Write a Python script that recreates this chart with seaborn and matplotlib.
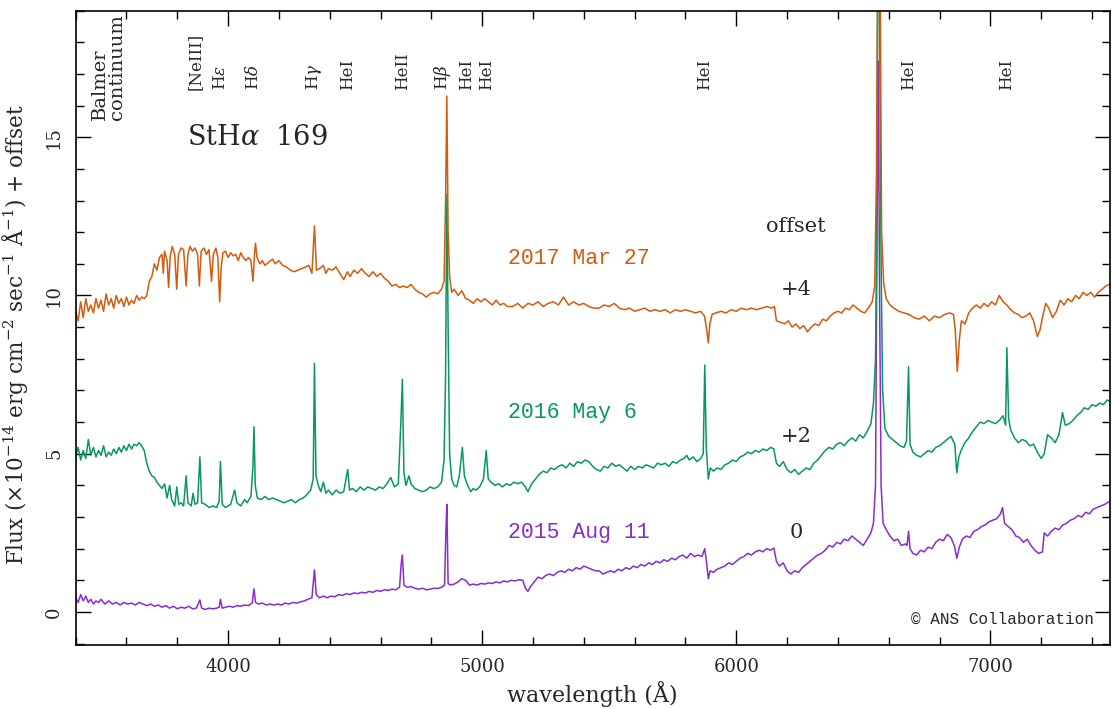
import matplotlib
matplotlib.use("Agg")
import matplotlib.pyplot as plt
from matplotlib.ticker import MultipleLocator
import pandas as pd
import seaborn as sns

# Observing epochs, vertical offsets applied for display, and line colours
epochs = ["2015 Aug 11", "2016 May 6", "2017 Mar 27"]
offsets = [0, 2, 4]
offset_labels = ["0", "+2", "+4"]
colors = ["#8a2bd0", "#05995f", "#d65a0c"]

# Spectra: (wavelength [A], flux [1e-14 erg cm-2 s-1 A-1]) before the offset
spec_2015 = [
    (3400, 0.45), (3410, 0.3), (3420, 0.55), (3430, 0.35), (3440, 0.5), (3450, 0.3),
    (3460, 0.4), (3470, 0.25), (3480, 0.35), (3490, 0.3), (3500, 0.4), (3515, 0.25),
    (3530, 0.35), (3545, 0.25), (3560, 0.3), (3575, 0.22), (3590, 0.3), (3605, 0.25),
    (3620, 0.28), (3635, 0.22), (3650, 0.3), (3665, 0.25), (3680, 0.2), (3695, 0.25),
    (3710, 0.18), (3725, 0.22), (3740, 0.15), (3755, 0.2), (3770, 0.12), (3785, 0.18),
    (3800, 0.1), (3815, 0.15), (3830, 0.12), (3845, 0.18), (3860, 0.1), (3875, 0.12),
    (3889, 0.38), (3896, 0.12), (3910, 0.08), (3925, 0.12), (3940, 0.1), (3955, 0.12),
    (3965, 0.15), (3970, 0.4), (3977, 0.12), (3990, 0.15), (4005, 0.18), (4020, 0.15),
    (4035, 0.2), (4050, 0.18), (4065, 0.22), (4080, 0.2), (4095, 0.28), (4102, 0.73),
    (4108, 0.3), (4120, 0.25), (4135, 0.28), (4150, 0.22), (4165, 0.25), (4180, 0.22),
    (4195, 0.25), (4210, 0.22), (4225, 0.28), (4240, 0.25), (4255, 0.3), (4270, 0.28),
    (4285, 0.32), (4300, 0.35), (4315, 0.4), (4330, 0.45), (4340, 1.33), (4347, 0.55),
    (4360, 0.45), (4375, 0.5), (4390, 0.45), (4405, 0.5), (4420, 0.48), (4435, 0.55),
    (4450, 0.52), (4465, 0.58), (4480, 0.55), (4495, 0.6), (4510, 0.58), (4525, 0.62),
    (4540, 0.6), (4555, 0.65), (4570, 0.62), (4585, 0.68), (4600, 0.65), (4615, 0.7),
    (4630, 0.68), (4645, 0.72), (4660, 0.7), (4675, 0.78), (4681, 1.5), (4686, 1.8),
    (4692, 0.85), (4705, 0.78), (4720, 0.8), (4735, 0.75), (4750, 0.72), (4765, 0.75),
    (4780, 0.7), (4795, 0.72), (4810, 0.75), (4825, 0.74), (4840, 0.78), (4852, 0.85),
    (4857, 2.5), (4861, 3.4), (4866, 0.9), (4875, 0.85), (4890, 0.88), (4905, 0.95),
    (4920, 1.05), (4935, 1.0), (4950, 0.85), (4965, 0.88), (4980, 0.85), (4995, 0.9),
    (5010, 0.88), (5025, 0.92), (5040, 0.9), (5055, 0.95), (5070, 0.92), (5085, 0.98),
    (5100, 0.95), (5115, 1.0), (5130, 0.98), (5145, 1.02), (5160, 1.0), (5170, 0.75),
    (5180, 0.65), (5190, 0.8), (5205, 0.95), (5220, 1.1), (5235, 1.05), (5250, 1.15),
    (5265, 1.2), (5280, 1.15), (5295, 1.25), (5310, 1.3), (5325, 1.25), (5340, 1.35),
    (5355, 1.3), (5370, 1.4), (5385, 1.35), (5400, 1.45), (5415, 1.4), (5430, 1.35),
    (5445, 1.3), (5460, 1.3), (5475, 1.2), (5490, 1.25), (5505, 1.3), (5520, 1.25),
    (5535, 1.35), (5550, 1.3), (5565, 1.4), (5580, 1.35), (5595, 1.45), (5610, 1.4),
    (5625, 1.5), (5640, 1.45), (5655, 1.55), (5670, 1.5), (5685, 1.6), (5700, 1.55),
    (5715, 1.65), (5730, 1.6), (5745, 1.7), (5760, 1.65), (5775, 1.75), (5790, 1.8),
    (5805, 1.7), (5820, 1.85), (5835, 1.75), (5850, 1.8), (5865, 1.75), (5876, 2.0),
    (5884, 1.5), (5890, 1.05), (5897, 1.3), (5910, 1.25), (5925, 1.35), (5940, 1.4),
    (5955, 1.45), (5970, 1.55), (5985, 1.5), (6000, 1.6), (6015, 1.7), (6030, 1.75),
    (6045, 1.85), (6060, 1.8), (6075, 1.9), (6090, 1.95), (6105, 1.9), (6120, 2.0),
    (6135, 1.95), (6148, 2.02), (6158, 1.6), (6170, 1.45), (6185, 1.55), (6200, 1.3),
    (6215, 1.2), (6230, 1.3), (6245, 1.25), (6260, 1.4), (6275, 1.5), (6290, 1.6),
    (6305, 1.7), (6320, 1.8), (6335, 1.85), (6350, 1.95), (6365, 2.1), (6380, 2.05),
    (6395, 2.2), (6410, 2.15), (6425, 2.3), (6440, 2.25), (6455, 2.4), (6470, 2.3),
    (6485, 2.2), (6500, 2.1), (6515, 2.3), (6530, 2.5), (6540, 2.8), (6548, 4.0),
    (6554, 12.0), (6559, 17.4), (6564, 10.0), (6570, 4.0), (6578, 2.8), (6590, 2.6),
    (6605, 2.4), (6620, 2.25), (6635, 2.3), (6650, 2.1), (6665, 2.15), (6672, 2.1),
    (6678, 2.55), (6684, 2.0), (6695, 1.85), (6710, 1.8), (6725, 1.95), (6740, 1.9),
    (6755, 2.05), (6770, 2.0), (6785, 2.2), (6800, 2.3), (6815, 2.25), (6830, 2.45),
    (6845, 2.35), (6858, 2.1), (6868, 1.7), (6878, 2.05), (6890, 2.3), (6905, 2.4),
    (6920, 2.35), (6935, 2.55), (6950, 2.6), (6965, 2.7), (6980, 2.75), (6995, 2.85),
    (7010, 2.9), (7025, 2.95), (7040, 3.1), (7048, 3.3), (7056, 2.8), (7070, 2.7),
    (7085, 2.6), (7100, 2.4), (7115, 2.35), (7130, 2.2), (7145, 2.3), (7160, 2.1),
    (7175, 1.95), (7190, 1.85), (7205, 1.9), (7212, 2.5), (7225, 2.4), (7240, 2.55),
    (7255, 2.65), (7270, 2.6), (7285, 2.75), (7300, 2.8), (7315, 2.9), (7330, 2.95),
    (7345, 3.05), (7360, 3.0), (7375, 3.15), (7390, 3.1), (7405, 3.25), (7420, 3.3),
    (7435, 3.35), (7450, 3.4), (7470, 3.5),
]

spec_2016 = [
    (3400, 2.9), (3410, 3.2), (3420, 2.8), (3430, 3.1), (3440, 2.85), (3450, 3.45),
    (3460, 2.95), (3470, 3.2), (3480, 2.9), (3490, 3.1), (3500, 2.95), (3510, 3.25),
    (3520, 2.9), (3530, 3.05), (3540, 2.95), (3550, 3.15), (3560, 3.0), (3570, 3.2),
    (3580, 3.05), (3590, 3.25), (3600, 3.1), (3610, 3.3), (3620, 3.15), (3630, 3.3),
    (3640, 3.25), (3650, 3.35), (3660, 3.25), (3670, 3.1), (3680, 2.7), (3690, 2.45),
    (3700, 2.3), (3710, 2.25), (3720, 2.1), (3730, 2.0), (3740, 1.9), (3750, 2.05),
    (3760, 1.6), (3770, 2.0), (3778, 1.55), (3790, 1.35), (3798, 1.95), (3806, 1.4),
    (3815, 1.45), (3825, 1.35), (3835, 2.3), (3842, 1.45), (3855, 1.35), (3862, 1.75),
    (3870, 1.4), (3880, 1.45), (3889, 2.9), (3896, 1.45), (3910, 1.4), (3925, 1.3),
    (3940, 1.35), (3955, 1.3), (3965, 1.5), (3970, 2.75), (3977, 1.4), (3990, 1.3),
    (4000, 1.35), (4010, 1.4), (4026, 1.85), (4035, 1.45), (4050, 1.35), (4065, 1.55),
    (4075, 1.45), (4090, 1.65), (4098, 2.6), (4102, 3.85), (4107, 2.0), (4115, 1.6),
    (4130, 1.55), (4145, 1.65), (4160, 1.55), (4175, 1.6), (4190, 1.55), (4205, 1.5),
    (4220, 1.45), (4235, 1.5), (4250, 1.55), (4265, 1.45), (4280, 1.55), (4295, 1.6),
    (4310, 1.7), (4325, 1.85), (4335, 2.2), (4340, 5.85), (4346, 2.3), (4355, 2.0),
    (4365, 1.8), (4375, 2.1), (4385, 1.75), (4395, 1.85), (4410, 1.7), (4425, 1.85),
    (4440, 1.75), (4455, 1.8), (4471, 2.5), (4478, 1.85), (4490, 1.9), (4505, 1.8),
    (4520, 1.95), (4535, 1.85), (4550, 1.95), (4565, 1.9), (4580, 1.85), (4595, 1.95),
    (4610, 1.9), (4625, 2.05), (4640, 2.25), (4655, 1.95), (4670, 2.05), (4680, 4.0),
    (4686, 5.35), (4692, 2.4), (4700, 2.0), (4712, 2.3), (4720, 2.05), (4735, 1.9),
    (4750, 1.85), (4765, 1.8), (4780, 1.85), (4795, 1.95), (4810, 1.9), (4825, 1.95),
    (4840, 2.1), (4850, 2.8), (4856, 5.5), (4861, 11.2), (4866, 7.0), (4872, 3.0),
    (4880, 2.2), (4890, 2.0), (4900, 1.95), (4910, 2.3), (4922, 3.2), (4930, 2.3),
    (4940, 2.05), (4955, 1.8), (4965, 1.9), (4975, 1.85), (4990, 1.95), (5005, 2.2),
    (5016, 3.1), (5024, 2.2), (5035, 2.1), (5050, 2.0), (5065, 2.05), (5080, 1.95),
    (5095, 2.05), (5110, 2.0), (5125, 2.1), (5140, 2.05), (5155, 2.1), (5170, 1.95),
    (5180, 1.8), (5195, 2.05), (5210, 2.2), (5225, 2.35), (5240, 2.45), (5255, 2.4),
    (5270, 2.55), (5285, 2.5), (5300, 2.6), (5315, 2.65), (5330, 2.55), (5345, 2.7),
    (5360, 2.6), (5375, 2.75), (5390, 2.7), (5405, 2.8), (5420, 2.75), (5435, 2.6),
    (5450, 2.5), (5465, 2.45), (5480, 2.6), (5495, 2.55), (5510, 2.7), (5525, 2.6),
    (5540, 2.65), (5555, 2.55), (5570, 2.45), (5585, 2.6), (5600, 2.5), (5615, 2.6),
    (5630, 2.55), (5645, 2.65), (5660, 2.6), (5675, 2.55), (5690, 2.7), (5705, 2.65),
    (5720, 2.7), (5735, 2.6), (5750, 2.75), (5765, 2.7), (5780, 2.8), (5795, 2.85),
    (5805, 2.95), (5815, 2.8), (5830, 2.9), (5845, 2.75), (5860, 2.85), (5870, 3.0),
    (5876, 5.8), (5882, 3.2), (5890, 2.2), (5898, 2.55), (5910, 2.45), (5925, 2.55),
    (5940, 2.5), (5955, 2.65), (5970, 2.7), (5985, 2.8), (6000, 2.75), (6015, 2.9),
    (6030, 2.95), (6045, 3.05), (6060, 3.0), (6075, 3.1), (6090, 3.05), (6105, 3.15),
    (6120, 3.1), (6135, 3.2), (6148, 3.15), (6158, 2.7), (6170, 2.6), (6185, 2.75),
    (6200, 2.5), (6215, 2.4), (6230, 2.5), (6245, 2.35), (6260, 2.45), (6275, 2.55),
    (6290, 2.5), (6305, 2.7), (6320, 2.8), (6335, 2.95), (6350, 3.1), (6365, 3.2),
    (6380, 3.15), (6395, 3.3), (6410, 3.35), (6425, 3.25), (6440, 3.4), (6455, 3.5),
    (6470, 3.4), (6485, 3.6), (6500, 3.5), (6515, 3.7), (6530, 3.95), (6540, 4.6),
    (6548, 6.0), (6553, 10.0), (6558, 19.0), (6564, 17.0), (6570, 9.0), (6576, 5.0),
    (6585, 3.8), (6600, 3.55), (6615, 3.45), (6630, 3.35), (6645, 3.25), (6660, 3.2),
    (6670, 3.4), (6678, 5.75), (6684, 3.3), (6695, 3.05), (6710, 2.95), (6725, 2.9),
    (6740, 3.0), (6755, 3.1), (6770, 3.05), (6785, 3.2), (6800, 3.25), (6815, 3.35),
    (6830, 3.45), (6845, 3.55), (6860, 3.3), (6868, 2.4), (6876, 2.9), (6885, 3.1),
    (6900, 3.35), (6915, 3.5), (6930, 3.7), (6945, 3.85), (6960, 4.0), (6975, 3.95),
    (6990, 4.05), (7005, 4.0), (7020, 3.95), (7035, 4.05), (7050, 4.2), (7060, 3.9),
    (7065, 6.35), (7072, 4.1), (7080, 3.75), (7095, 3.5), (7110, 3.35), (7125, 3.45),
    (7140, 3.4), (7155, 3.25), (7170, 3.3), (7185, 3.05), (7200, 2.85), (7212, 3.0),
    (7225, 3.6), (7240, 3.5), (7255, 3.35), (7270, 3.6), (7284, 4.3), (7295, 3.9),
    (7310, 3.95), (7325, 4.05), (7340, 4.2), (7355, 4.3), (7370, 4.45), (7385, 4.4),
    (7400, 4.55), (7415, 4.5), (7430, 4.6), (7445, 4.55), (7460, 4.7), (7470, 4.65),
]

spec_2017 = [
    (3400, 5.5), (3410, 5.2), (3420, 5.8), (3430, 5.3), (3440, 5.9), (3450, 5.5),
    (3460, 5.7), (3470, 5.45), (3480, 5.9), (3490, 5.6), (3500, 5.85), (3510, 5.5),
    (3520, 6.05), (3530, 5.7), (3540, 5.9), (3550, 5.6), (3560, 6.0), (3570, 5.75),
    (3580, 5.9), (3590, 5.65), (3600, 5.95), (3610, 5.7), (3620, 5.85), (3630, 5.75),
    (3640, 6.0), (3650, 5.85), (3660, 5.95), (3670, 5.9), (3680, 6.0), (3690, 6.45),
    (3700, 6.6), (3710, 7.0), (3720, 6.8), (3730, 7.2), (3740, 7.3), (3745, 6.7),
    (3750, 7.4), (3760, 7.1), (3766, 6.25), (3772, 7.2), (3780, 7.55), (3790, 7.3),
    (3798, 6.2), (3805, 7.3), (3815, 7.5), (3825, 7.45), (3835, 6.3), (3842, 7.3),
    (3850, 7.55), (3860, 7.4), (3870, 7.5), (3880, 7.3), (3887, 6.3), (3894, 7.4),
    (3905, 7.5), (3915, 7.3), (3925, 7.45), (3935, 6.45), (3942, 7.3), (3952, 7.5),
    (3960, 7.2), (3967, 5.8), (3973, 6.9), (3980, 7.35), (3990, 7.4), (4000, 7.2),
    (4010, 7.35), (4020, 7.25), (4030, 7.3), (4040, 7.1), (4050, 7.35), (4060, 7.2),
    (4070, 7.1), (4080, 7.2), (4090, 7.1), (4098, 6.45), (4104, 7.3), (4108, 7.65),
    (4114, 7.2), (4125, 7.0), (4135, 7.1), (4145, 6.95), (4160, 7.05), (4175, 7.15),
    (4185, 7.0), (4200, 7.1), (4215, 6.95), (4230, 6.9), (4245, 6.8), (4260, 6.75),
    (4275, 6.8), (4290, 6.85), (4305, 6.9), (4318, 6.95), (4330, 6.7), (4340, 8.2),
    (4348, 6.8), (4360, 6.85), (4375, 6.95), (4385, 6.7), (4395, 6.85), (4410, 6.8),
    (4425, 6.9), (4440, 6.7), (4455, 6.5), (4470, 6.75), (4480, 6.6), (4495, 6.8),
    (4510, 6.7), (4525, 6.85), (4540, 6.7), (4555, 6.6), (4570, 6.75), (4585, 6.6),
    (4600, 6.7), (4615, 6.55), (4630, 6.45), (4645, 6.3), (4660, 6.35), (4675, 6.25),
    (4690, 6.3), (4705, 6.25), (4720, 6.35), (4735, 6.2), (4750, 6.1), (4765, 6.05),
    (4780, 5.95), (4795, 6.05), (4810, 6.1), (4825, 6.05), (4840, 6.2), (4850, 6.45),
    (4856, 9.0), (4861, 12.3), (4866, 8.0), (4872, 6.6), (4880, 6.1), (4890, 6.2),
    (4905, 6.0), (4920, 6.15), (4935, 5.9), (4950, 5.85), (4965, 5.75), (4980, 5.9),
    (4995, 5.8), (5010, 5.9), (5025, 5.8), (5040, 5.7), (5055, 5.85), (5070, 5.7),
    (5085, 5.75), (5100, 5.65), (5120, 5.65), (5140, 5.75), (5160, 5.6), (5180, 5.75),
    (5200, 5.7), (5220, 5.8), (5240, 5.65), (5260, 5.75), (5280, 5.8), (5300, 5.7),
    (5320, 5.95), (5340, 5.7), (5360, 5.8), (5380, 5.7), (5400, 5.75), (5420, 5.65),
    (5440, 5.6), (5460, 5.6), (5480, 5.7), (5500, 5.65), (5520, 5.75), (5540, 5.6),
    (5560, 5.55), (5580, 5.6), (5600, 5.5), (5620, 5.55), (5640, 5.6), (5660, 5.5),
    (5680, 5.55), (5700, 5.5), (5720, 5.55), (5740, 5.45), (5760, 5.55), (5780, 5.5),
    (5800, 5.55), (5820, 5.5), (5840, 5.45), (5860, 5.5), (5875, 5.35), (5884, 4.9),
    (5890, 4.5), (5896, 5.1), (5905, 5.4), (5920, 5.45), (5940, 5.5), (5960, 5.45),
    (5980, 5.55), (6000, 5.5), (6020, 5.6), (6040, 5.55), (6060, 5.6), (6080, 5.55),
    (6100, 5.6), (6120, 5.65), (6140, 5.6), (6150, 5.65), (6158, 5.2), (6175, 5.15),
    (6190, 5.1), (6205, 5.2), (6220, 5.0), (6235, 5.1), (6250, 4.95), (6265, 5.05),
    (6280, 4.85), (6295, 5.0), (6310, 5.1), (6325, 5.05), (6340, 5.25), (6355, 5.2),
    (6370, 5.35), (6385, 5.45), (6400, 5.5), (6415, 5.45), (6430, 5.6), (6445, 5.55),
    (6460, 5.7), (6475, 5.6), (6490, 5.5), (6505, 5.45), (6520, 5.6), (6535, 5.8),
    (6545, 6.3), (6552, 10.0), (6558, 20.0), (6565, 18.0), (6572, 8.0), (6580, 6.4),
    (6590, 5.9), (6605, 5.7), (6620, 5.6), (6640, 5.5), (6660, 5.45), (6680, 5.4),
    (6700, 5.3), (6720, 5.25), (6740, 5.35), (6760, 5.2), (6780, 5.35), (6800, 5.3),
    (6820, 5.4), (6840, 5.45), (6855, 5.4), (6862, 4.9), (6870, 3.6), (6878, 4.6),
    (6886, 5.2), (6900, 5.1), (6915, 5.45), (6930, 5.6), (6945, 5.7), (6960, 5.6),
    (6975, 5.75), (6990, 5.65), (7005, 5.8), (7020, 5.7), (7035, 6.0), (7050, 5.8),
    (7065, 5.7), (7080, 5.55), (7095, 5.45), (7110, 5.4), (7125, 5.3), (7140, 5.35),
    (7155, 5.45), (7170, 5.2), (7185, 4.7), (7195, 4.9), (7205, 5.3), (7218, 5.75),
    (7230, 5.6), (7245, 5.3), (7260, 5.5), (7275, 5.85), (7290, 5.7), (7305, 5.9),
    (7320, 5.8), (7335, 6.0), (7350, 5.9), (7365, 6.1), (7380, 6.0), (7395, 6.1),
    (7410, 5.95), (7425, 6.1), (7440, 6.2), (7455, 6.3), (7470, 6.35),
]

# Line identifications marked along the top of the panel
line_names = ["[NeIII]", r"H$\epsilon$", r"H$\delta$", r"H$\gamma$", "HeI", "HeII",
              r"H$\beta$", "HeI", "HeI", "HeI", "HeI", "HeI"]
line_waves = [3869, 3970, 4102, 4340, 4471, 4686, 4861, 4922, 5016, 5876, 6678, 7065]

frames = []
for name, spec, off in zip(epochs, [spec_2015, spec_2016, spec_2017], offsets):
    df = pd.DataFrame(spec, columns=["wavelength", "flux"])
    df["shown"] = df["flux"] + off
    df["epoch"] = name
    frames.append(df)
data = pd.concat(frames, ignore_index=True)

sns.set_theme(style="ticks")
plt.rcParams["font.family"] = ["DejaVu Serif"]
plt.rcParams["mathtext.fontset"] = "dejavuserif"

fig = plt.figure(figsize=(11.12, 7.09), dpi=100)
ax = fig.add_axes([0.068, 0.090, 0.930, 0.895])

palette = dict(zip(epochs, colors))
sns.lineplot(data=data, x="wavelength", y="shown", hue="epoch", hue_order=epochs,
             palette=palette, estimator=None, legend=False, linewidth=1.1, ax=ax)

ax.set_xlim(3400, 7470)
ax.set_ylim(-1.05, 19)
ax.xaxis.set_major_locator(MultipleLocator(1000))
ax.xaxis.set_minor_locator(MultipleLocator(200))
ax.yaxis.set_major_locator(MultipleLocator(5))
ax.yaxis.set_minor_locator(MultipleLocator(1))
ax.tick_params(which="both", direction="in", top=True, right=True, color="black",
               width=1.0)
ax.tick_params(which="major", length=10.5)
ax.tick_params(which="minor", length=5.5)
ax.tick_params(axis="x", labelsize=13, pad=9)
ax.tick_params(axis="y", labelsize=13, pad=9)
for lab in ax.get_yticklabels():
    lab.set_rotation(90)
    lab.set_va("center")
for sp in ax.spines.values():
    sp.set_color("black")
    sp.set_linewidth(1.2)

ax.set_xlabel("wavelength (Å)", fontsize=16)
ax.xaxis.set_label_coords(0.5, -0.056)
ax.set_ylabel(r"Flux ($\times$10$^{-14}$ erg cm$^{-2}$ sec$^{-1}$ Å$^{-1}$) + offset",
              fontsize=15.5)
ax.yaxis.set_label_coords(-0.044, 0.49)

# Object name
ax.text(3840, 15.0, r"StH$\alpha$  169", fontsize=19.5, ha="left", va="center")

# Line identifications; the crowded H-beta / HeI pair is spread by a few points
nudge_pt = {4861: -3, 4922: 3}
for nm, wl in zip(line_names, line_waves):
    ax.annotate(nm, xy=(wl, 16.5), xytext=(nudge_pt.get(wl, 0), 0),
                textcoords="offset points", rotation=90, fontsize=12,
                ha="center", va="bottom")
ax.text(3530, 15.55, "Balmer\ncontinuum", rotation=90, fontsize=14, ha="center",
        va="bottom", multialignment="left", linespacing=0.9)

# Epoch labels and offsets
label_y = [2.5, 6.29, 11.18]
offset_y = [2.5, 5.54, 10.18]
for name, col, ly, oy, ol in zip(epochs, colors, label_y, offset_y, offset_labels):
    ax.text(5100, ly, name, color=col, fontsize=15.5, family="Liberation Mono",
            ha="left", va="center")
    ax.text(6235, oy, ol, fontsize=15, ha="center", va="center")
ax.text(6235, 12.17, "offset", fontsize=15, ha="center", va="center")

ax.text(6686, -0.24, "© ANS Collaboration", fontsize=11.5, family="Liberation Mono",
        ha="left", va="center")

fig.savefig("out.png", dpi=100)
